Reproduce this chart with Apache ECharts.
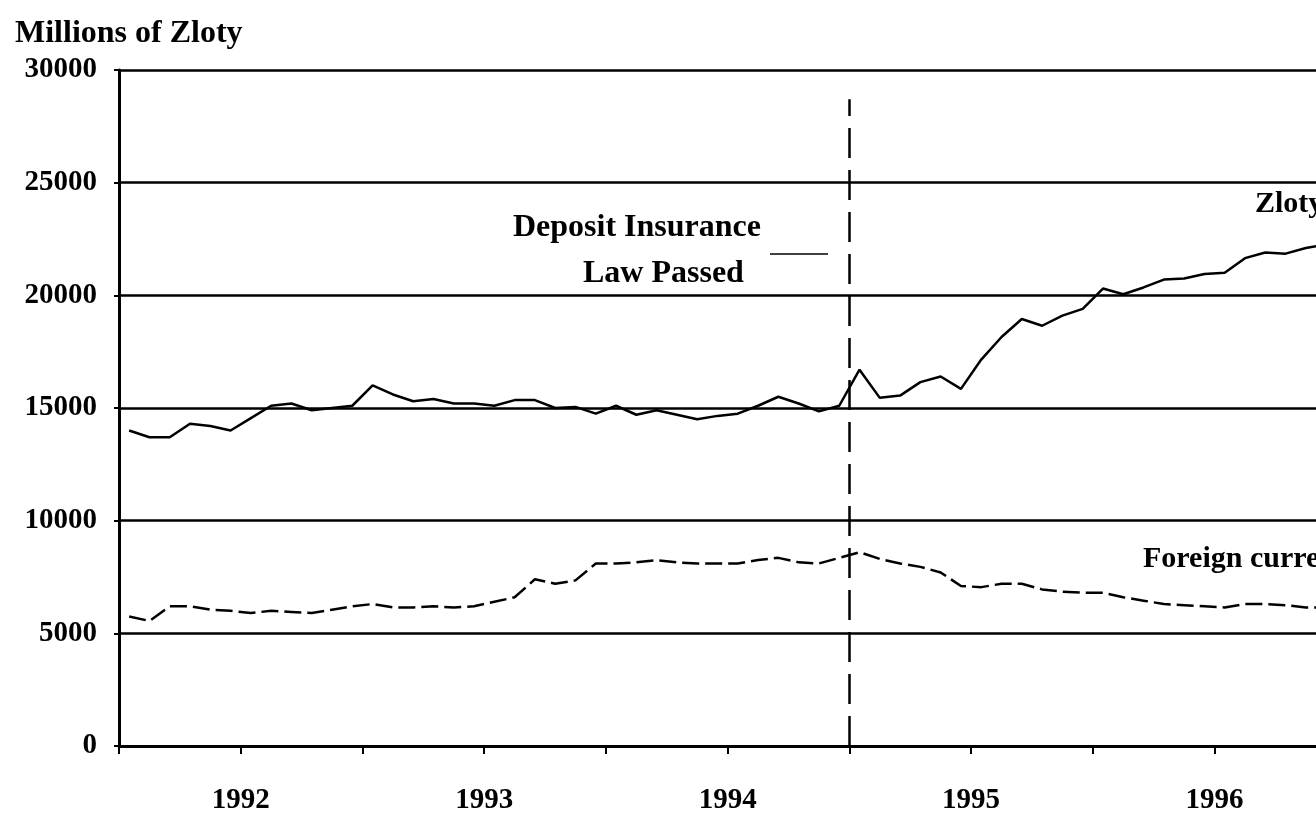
<html>
<head>
    <meta charset="utf-8">
    <script src="https://cdn.jsdelivr.net/npm/echarts@6/dist/echarts.min.js"></script>
</head>
<body style="margin:0">
<div id="main" style="width:1316px;height:816px;"></div>
<script>
    // monthly deposits, millions of zloty
    var zlotyDeposits = [
        14000, 13700, 13700, 14300, 14200, 14000, 14550, 15100, 15200, 14900,
        15000, 15100, 16000, 15600, 15300, 15400, 15200, 15200, 15100, 15350,
        15350, 15000, 15050, 14750, 15100, 14700, 14900, 14700, 14500, 14650,
        14750, 15100, 15500, 15200, 14850, 15100, 16700, 15450, 15550, 16150,
        16400, 15850, 17150, 18150, 18950, 18650, 19100, 19400, 20300, 20050,
        20350, 20700, 20750, 20950, 21000, 21650, 21900, 21850, 22100, 22250
    ];
    var foreignDeposits = [
        5750, 5550, 6200, 6200, 6050, 6000, 5900, 6000, 5950, 5900,
        6050, 6200, 6300, 6150, 6150, 6200, 6150, 6200, 6400, 6600,
        7400, 7200, 7350, 8100, 8100, 8150, 8250, 8150, 8100, 8100,
        8100, 8250, 8350, 8150, 8100, 8350, 8600, 8300, 8100, 7950,
        7700, 7100, 7050, 7200, 7200, 6950, 6850, 6800, 6800, 6600,
        6450, 6300, 6250, 6200, 6150, 6300, 6300, 6250, 6150, 6150
    ];
    var halfYearTicks = [0, 6, 12, 18, 24, 30, 36, 42, 48, 54];
    var yearTicks = [6, 18, 30, 42, 54];
    var yearLabels = ['1992', '1993', '1994', '1995', '1996'];
    var lawPassedMonth = 36;

    var font = '"Liberation Serif", "Times New Roman", serif';

    function toPoints(values) {
        return values.map(function (v, i) {
            return [i + 0.5, v];
        });
    }

    var chart = echarts.init(document.getElementById('main'));
    var option = {
        animation: false,
        backgroundColor: '#fff',
        title: {
            text: 'Millions of Zloty',
            left: 10,
            top: 13,
            textStyle: {
                fontFamily: font,
                fontWeight: 'bold',
                fontSize: 32,
                color: '#000'
            }
        },
        // the picture is cropped on the right: the month axis runs past the edge
        grid: {
            left: 119,
            right: -3,
            top: 70,
            bottom: 70
        },
        xAxis: {
            type: 'value',
            min: 0,
            max: 59,
            splitLine: {show: false},
            axisLine: {lineStyle: {color: '#000', width: 3}},
            axisTick: {
                show: true,
                length: 8,
                customValues: halfYearTicks,
                lineStyle: {color: '#000', width: 2}
            },
            axisLabel: {
                margin: 40,
                fontFamily: font,
                fontWeight: 'bold',
                fontSize: 29,
                color: '#000',
                customValues: yearTicks,
                formatter: function (v) {
                    var k = yearTicks.indexOf(v);
                    return k >= 0 ? yearLabels[k] : '';
                }
            }
        },
        yAxis: {
            type: 'value',
            min: 0,
            max: 30000,
            interval: 5000,
            axisLine: {show: true, lineStyle: {color: '#000', width: 3}},
            axisTick: {show: true, length: 5, lineStyle: {color: '#000', width: 2}},
            splitLine: {lineStyle: {color: '#000', width: 2.5}},
            axisLabel: {
                margin: 22,
                fontFamily: font,
                fontWeight: 'bold',
                fontSize: 29,
                color: '#000',
                formatter: function (v) {
                    return String(v);
                }
            }
        },
        graphic: [
            {
                type: 'text', left: 1255, top: 189,
                style: {text: 'Zloty', font: 'bold 30px ' + font, fill: '#000'}
            },
            {
                type: 'text', left: 1143, top: 544,
                style: {text: 'Foreign currency', font: 'bold 30px ' + font, fill: '#000'}
            },
            {
                type: 'text', left: 513, top: 212,
                style: {text: 'Deposit Insurance', font: 'bold 32px ' + font, fill: '#000'}
            },
            {
                type: 'text', left: 583, top: 258,
                style: {text: 'Law Passed', font: 'bold 32px ' + font, fill: '#000'}
            },
            {
                type: 'line',
                shape: {x1: 770, y1: 254, x2: 828, y2: 254},
                style: {stroke: '#000', lineWidth: 1.5}
            }
        ],
        series: [
            {
                name: 'Zloty',
                type: 'line',
                data: toPoints(zlotyDeposits),
                symbol: 'none',
                lineStyle: {color: '#000', width: 2.5},
                markLine: {
                    silent: true,
                    symbol: ['none', 'none'],
                    label: {show: false},
                    lineStyle: {color: '#000', width: 2.5, type: [30, 12]},
                    data: [
                        [{coord: [lawPassedMonth, 0]}, {coord: [lawPassedMonth, 28700]}]
                    ]
                }
            },
            {
                name: 'Foreign currency',
                type: 'line',
                data: toPoints(foreignDeposits),
                symbol: 'none',
                lineStyle: {color: '#000', width: 2.5, type: [17, 6]}
            }
        ]
    };
    chart.setOption(option);
</script>
</body>
</html>
